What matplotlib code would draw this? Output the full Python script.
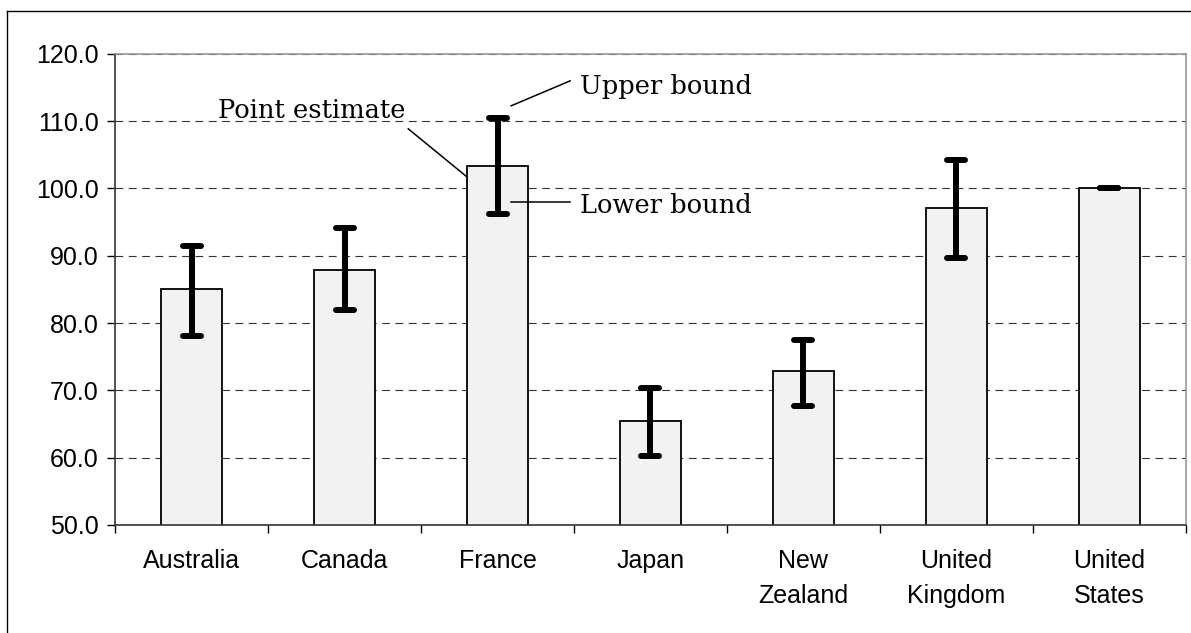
import numpy as np
import matplotlib
matplotlib.use('Agg')
import matplotlib.pyplot as plt
from matplotlib.lines import Line2D
from matplotlib.markers import MarkerStyle
from matplotlib.ticker import FixedLocator, FormatStrFormatter

# values
countries = ['Australia', 'Canada', 'France', 'Japan', 'New\nZealand', 'United\nKingdom', 'United\nStates']
point = [85.0, 87.9, 103.3, 65.4, 72.8, 97.1, 100.0]
lower = [78.1, 81.9, 96.2, 60.3, 67.7, 89.6, 100.0]
upper = [91.4, 94.1, 110.4, 70.4, 77.5, 104.2, 100.0]
y_ticks = [50, 60, 70, 80, 90, 100, 110, 120]

W, H = 1191, 633
fig = plt.figure(figsize=(W / 100, H / 100), dpi=100)
ax = fig.add_axes([115.3 / W, 1 - 525 / H, (1185.6 - 115.3) / W, (525 - 53.7) / H])

x = np.arange(len(countries))
p = np.array(point)
err = [p - np.array(lower), np.array(upper) - p]

ax.yaxis.grid(True, linestyle=(0, (7, 5)), color='#333333', linewidth=0.8)
ax.set_axisbelow(True)
ax.bar(x, point, width=0.4, bottom=0, color='#f2f2f2', edgecolor='black', linewidth=1.3, zorder=2)
eb = ax.errorbar(x, point, yerr=err, fmt='none', ecolor='black', elinewidth=4.3,
                 capsize=6.5, capthick=4.3, zorder=3)
for cl in eb[1]:
    cl.set_marker(MarkerStyle('_', capstyle='round'))

ax.set_xlim(-0.5, len(countries) - 0.5)
ax.set_ylim(50, 120)
ax.yaxis.set_major_locator(FixedLocator(y_ticks))
ax.yaxis.set_major_formatter(FormatStrFormatter('%.1f'))

ax.set_xticks(x)
ax.set_xticklabels(countries, linespacing=1.6)
ax.xaxis.set_minor_locator(FixedLocator(np.arange(-0.5, len(countries), 1.0)))
ax.tick_params(axis='x', which='major', length=0, pad=17)
ax.tick_params(axis='x', which='minor', length=6, width=1, direction='out')
ax.tick_params(axis='y', length=6, width=1, direction='out', pad=6)
for lab in ax.get_xticklabels() + ax.get_yticklabels():
    lab.set_family('Liberation Sans')
    lab.set_fontsize(18)

for s in ['left', 'bottom']:
    ax.spines[s].set_color('#333333')
    ax.spines[s].set_linewidth(1.2)
for s in ['top', 'right']:
    ax.spines[s].set_color('#999999')
    ax.spines[s].set_linewidth(1.2)

# callouts on the France bar
serif = dict(family='DejaVu Serif', fontsize=18.5, color='black')
ax.text(0.787, 110.5, 'Point estimate', ha='center', va='baseline', **serif)
ax.text(2.54, 114.0, 'Upper bound', ha='left', va='baseline', **serif)
ax.text(2.54, 96.4, 'Lower bound', ha='left', va='baseline', **serif)
ax.plot([1.416, 1.80], [108.84, 101.7], color='black', lw=1.1, zorder=4)
ax.plot([2.089, 2.475], [112.26, 115.97], color='black', lw=1.1, zorder=4)
ax.plot([2.089, 2.475], [98.0, 98.0], color='black', lw=1.1, zorder=4)

# outer chart frame
fig.add_artist(Line2D([7 / W, 7 / W], [0, 1 - 11 / H], transform=fig.transFigure, color='black', lw=1))
fig.add_artist(Line2D([7 / W, 1], [1 - 11 / H, 1 - 11 / H], transform=fig.transFigure, color='black', lw=1))

fig.savefig('out.png', dpi=100)
